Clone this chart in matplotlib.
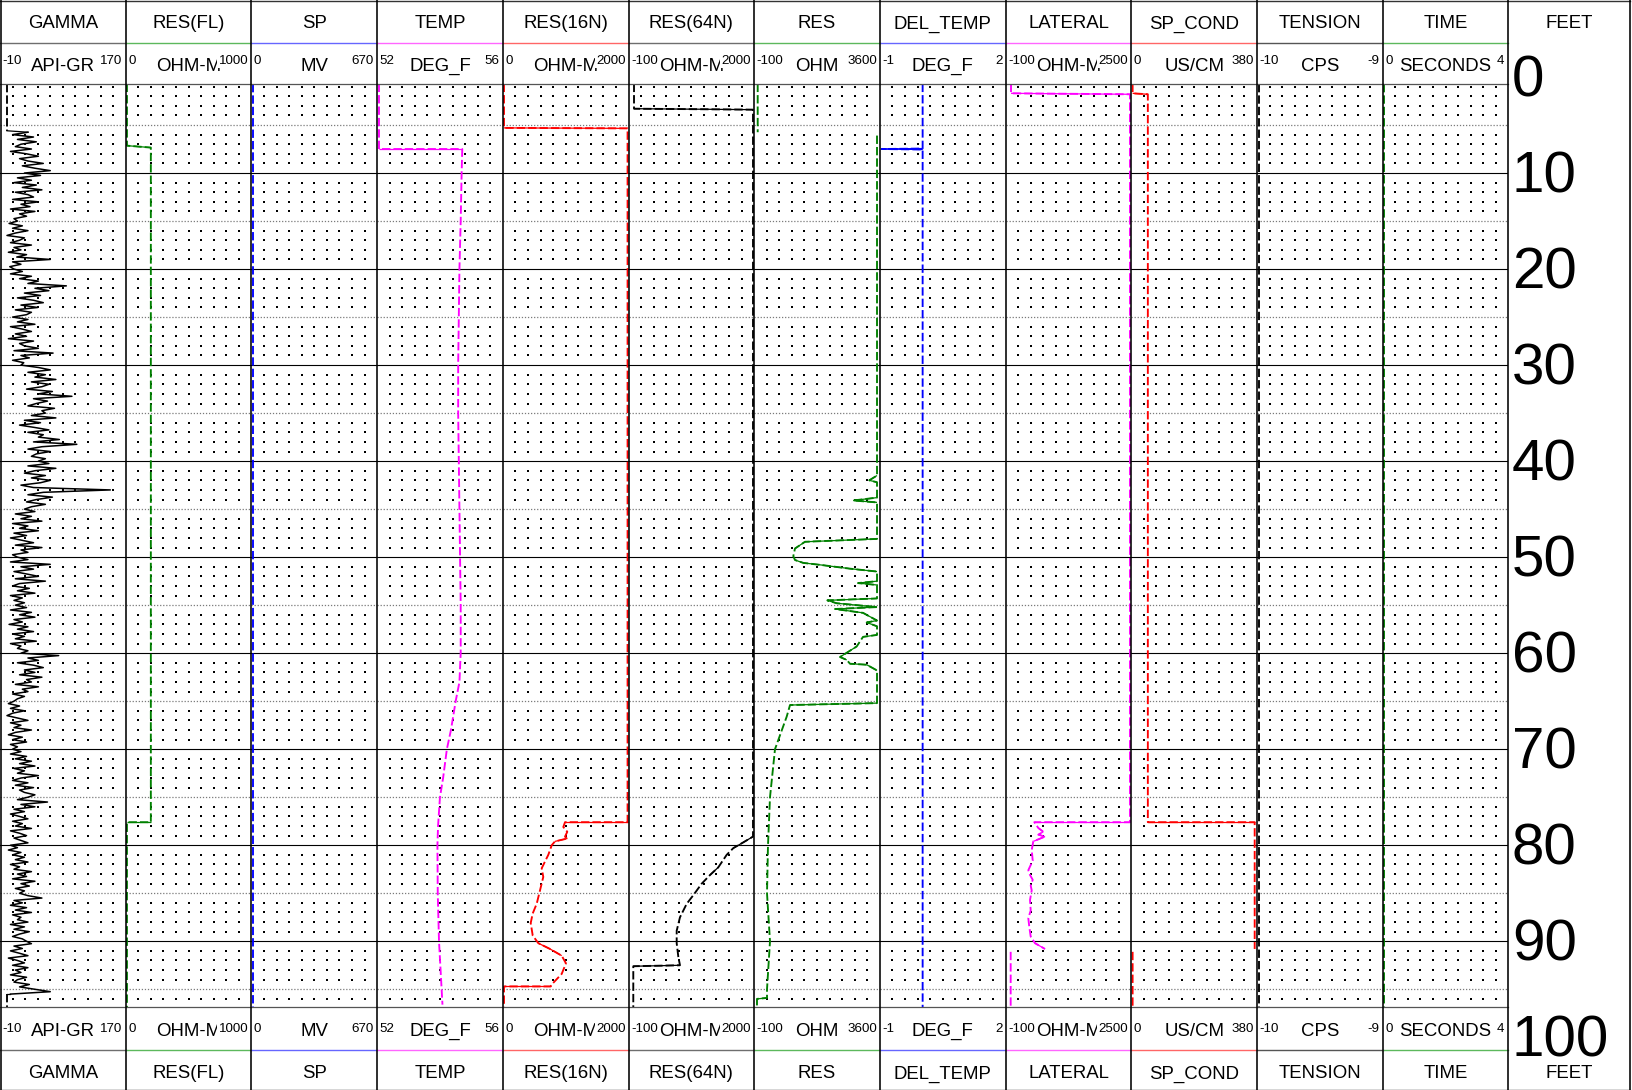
import numpy as np
import matplotlib
matplotlib.use("Agg")
import matplotlib.pyplot as plt

plt.rcParams['font.family'] = ['Liberation Sans', 'DejaVu Sans']
plt.rcParams['lines.scale_dashes'] = False

# ---------------------------------------------------------------- track setup
titles = ["GAMMA", "RES(FL)", "SP", "TEMP", "RES(16N)", "RES(64N)", "RES",
          "DEL_TEMP", "LATERAL", "SP_COND", "TENSION", "TIME"]
units = ["API-GR", "OHM-M", "MV", "DEG_F", "OHM-M", "OHM-M", "OHM",
         "DEG_F", "OHM-M", "US/CM", "CPS", "SECONDS"]
scale_min = [-10, 0, 0, 52, 0, -100, -100, -1, -100, 0, -10, 0]
scale_max = [170, 1000, 670, 56, 2000, 2000, 3600, 2, 2500, 380, -9, 4]
curve_colors = ["black", "#008000", "#0000ff", "#ff00ff", "#ff0000", "black",
                "#008000", "#0000ff", "#ff00ff", "#ff0000", "black", "#008000"]
header_colors = ["#6e6e6e", "#5cb85c", "#6666ff", "#ff66ff", "#ff6666", "#6e6e6e",
                 "#5cb85c", "#6666ff", "#ff66ff", "#ff6666", "#555555", "#5cb85c"]
depth_labels = [0, 10, 20, 30, 40, 50, 60, 70, 80, 90, 100]

# ---------------------------------------------------------------- log curves
# GAMMA (API) sampled every 0.25 ft from 5.75 ft to 95.5 ft
gamma_start, gamma_step = 5.75, 0.25
gamma_values = [
    30, 8, 38, 15, 42, 20, 12, 35, 5, 28, 45, 18, 30, 52, 22, 40, 62,
    25, 48, 15, 35, 10, 42, 22, 50, 12, 30, 38, 8, 45, 20, 33, 5, 40, 18, 28, 10,
    15, 3, 22, 8, 30, 12, 0, 25, 18, 5, 35, 10, 20, 2, 28, 14, 62, 8, 20, 4,
    10, 22, 5, 35, 18, 45, 30, 85, 40, 60, 25, 48, 15, 38, 52, 20, 44, 12, 35, 28,
    8, 30, 15, 40, 5, 22, 35, 12, 28, 2, 38, 18, 25, 45, 10, 66, 20, 32, 8, 24,
    20, 45, 62, 30, 55, 40, 70, 35, 60, 50, 28, 65, 45, 93, 38, 58, 42, 30, 68, 50,
    55, 35, 70, 25, 48, 18, 40, 60, 30, 52, 45, 75, 38, 100, 50, 30, 62, 42, 35, 55,
    45, 60, 30, 70, 40, 25, 55, 35, 62, 48, 20, 38, 148, 52, 30, 65, 42, 28, 55, 35,
    25, 40, 12, 35, 20, 50, 8, 30, 18, 45, 10, 28, 5, 22, 38, 12, 50, 20, 30, 8,
    15, 30, 5, 62, 20, 38, 10, 28, 45, 12, 55, 18, 8, 32, 15, 40, 5, 22, 10, 25,
    12, 28, 5, 35, 18, 40, 10, 22, 3, 30, 15, 38, 8, 25, 12, 42, 5, 20, 15, 30,
    20, 74, 30, 45, 15, 38, 52, 25, 40, 18, 50, 28, 35, 12, 45, 22, 30, 8, 25, 15,
    10, 2, 18, 5, 25, 8, 0, 15, 30, 5, 20, 10, 35, 12, 2, 22, 8, 28, 5, 15,
    8, 20, 5, 28, 12, 35, 18, 40, 10, 25, 15, 45, 20, 8, 30, 12, 38, 18, 25, 40,
    30, 15, 58, 20, 40, 10, 25, 5, 18, 30, 8, 22, 12, 35, 5, 18, 28, 10, 20, 30,
    5, 15, 2, 20, 8, 25, 12, 30, 5, 18, 10, 35, 15, 28, 8, 40, 20, 32, 12, 25,
    18, 30, 50, 10, 22, 5, 28, 12, 35, 8, 20, 15, 30, 5, 25, 10, 32, 18, 8, 22,
    28, 35, 10, 22, 5, 18, 30, 2, 15, 25, 8, 30, 12, 20, 5, 28, 15, 10, 32, 18,
    40, 62, 5,
]
gamma_top_depth = [0.7, 5.6]
gamma_top_value = [0, 0]
gamma_bot_depth = [95.5, 96.9]
gamma_bot_value = [0, 0]

resfl_depth = [0.7, 7.15, 7.35, 77.6, 77.6, 96.9]
resfl_value = [10, 10, 200, 200, 10, 10]

sp_depth = [0.7, 96.9]
sp_value = [7, 7]

temp_depth = [0.7, 7.5, 7.5, 10, 15, 20, 25, 30, 35, 40, 45, 50, 55, 60, 63, 65,
              68, 70, 73, 75, 78, 80, 85, 90, 96.6]
temp_value = [52.06, 52.06, 54.71, 54.69, 54.66, 54.62, 54.60, 54.58, 54.58, 54.60,
              54.62, 54.64, 54.66, 54.66, 54.62, 54.50, 54.35, 54.22, 54.10, 54.00,
              53.94, 53.92, 53.93, 53.97, 54.08]

res16_depth = [0.7, 5.3, 5.35, 77.6, 77.6, 78.1, 78.6, 79.1, 79.3, 79.6, 80.0, 81.0,
               81.7, 82.4, 83.3, 84.7, 86.1, 87.1, 88.1, 89.4, 90.2, 90.8, 91.5,
               92.3, 93.4, 94.5, 94.7, 94.7, 96.9]
res16_value = [19, 19, 1985, 1985, 990, 963, 1026, 990, 1026, 830, 778, 724,
               671, 619, 644, 592, 539, 476, 444, 476, 565, 751, 937,
               1005, 937, 778, 760, 19, 19]

res64_depth = [0.7, 3.3, 3.4, 79.1, 79.7, 80.3, 81.0, 82.3, 83.1, 84.0, 85.2, 86.1,
               87.5, 88.9, 90.2, 91.6, 92.5, 92.6, 96.9]
res64_value = [-8, -8, 1980, 1980, 1818, 1651, 1540, 1400, 1262, 1123, 983, 872,
               760, 705, 705, 732, 760, -20, -20]

res_depth = [0.7, 5.75, np.nan, 6.1, 41.5, 42.0, 42.2, 43.8, 44.1, 44.3, 48.1, 48.4, 49.1,
             49.9, 50.3, 50.6, 50.8, 51.2, 51.5, 52.5, 52.7, 52.9, 54.3, 54.5, 54.8,
             55.2, 55.4, 55.8, 56.6, 56.8, 57.2, 58.1, 58.3, 59.3, 60.4, 60.7, 61.1,
             61.2, 61.8, 65.2, 65.4, 66.6, 70, 75, 80, 85, 90, 95, 95.9, 96.0, 96.9]
res_value = [3, 3, np.nan, 3515, 3515, 3288, 3515, 3515, 2817, 3515, 3515, 1395, 1101,
             1051, 1101, 1345, 1837, 2720, 3515, 3515, 2955, 3515, 3515, 2052, 2328,
             3515, 2278, 3103, 3515, 3211, 3515, 3515, 3103, 2917, 2426, 2623, 2720,
             3211, 3515, 3515, 954, 857, 512, 365, 306, 277, 365, 277, 277, -18, -18]

deltemp_depth = [0.7, 7.45, 7.5, 7.55, 96.9]
deltemp_value = [0.02, 0.02, -0.96, 0.02, 0.02]

lat_depth = [0.7, 1.7, 1.8, 77.6, 77.6, 78.2, 78.6, 78.9, 79.1, 79.6, 80.5, 81.6,
             82.6, 83.1, 83.6, 84.2, 84.7, 85.7, 86.8, 87.6, 88.5, 89.5, 90.2, 90.8,
             np.nan, 91.1, 96.8]
lat_value = [12, 12, 2473, 2473, 494, 576, 680, 576, 715, 473, 440, 461,
             370, 405, 461, 419, 440, 405, 419, 370, 390, 419, 508, 715,
             np.nan, 5, 5]

spc_depth = [0.7, 1.7, 1.8, 77.6, 77.6, 90.8, np.nan, 91.1, 96.8]
spc_value = [4, 4, 50, 50, 373, 373, np.nan, 4, 4]

tension_depth = [0.7, 96.9]
tension_value = [-9.985, -9.985]

time_depth = [0.7, 96.9]
time_value = [0.05, 0.05]

# ---------------------------------------------------------------- geometry
W, H, DPI = 1632, 1090, 100
COL_W = 125.7
FEET_X0, FEET_X1 = 12 * COL_W, 1630.0
Y_DEPTH0, PX_PER_FT = 77.0, 9.603          # pixel row of 0 ft, pixels per foot
DATA_TOP, DATA_BOT = 83.7, 1007.0
ROW1, ROW2 = 42.7, 83.7
BROW1 = 1050.0


def px_to_depth(y):
    return (y - Y_DEPTH0) / PX_PER_FT


fig = plt.figure(figsize=(W / DPI, H / DPI), dpi=DPI)
fig.patch.set_facecolor("white")


def draw_curve(ax, depth, value, lo, hi, color, lw_v=1.35, lw_h=0.9):
    """Dashed log trace; near-horizontal steps are drawn solid."""
    d = np.asarray(depth, float)
    v = np.asarray(value, float)
    ax.plot(v, d, color=color, lw=lw_v, dashes=(6.0, 2.2),
            dash_capstyle="butt", zorder=5)
    dx = np.diff(v) / (hi - lo) * COL_W
    dy = np.diff(d) * PX_PER_FT
    with np.errstate(invalid="ignore"):
        flat = np.abs(dx) > np.abs(dy)
    for k in np.nonzero(flat)[0]:
        ax.plot(v[k:k + 2], d[k:k + 2], color=color, lw=lw_h,
                solid_capstyle="butt", zorder=5)


axes = []
for i in range(12):
    x0 = i * COL_W
    ax = fig.add_axes([x0 / W, 1 - DATA_BOT / H, COL_W / W, (DATA_BOT - DATA_TOP) / H])
    lo, hi = scale_min[i], scale_max[i]
    ax.set_xlim(lo, hi)
    ax.set_ylim(px_to_depth(DATA_BOT), px_to_depth(DATA_TOP))
    ax.set_xticks([])
    ax.set_yticks([])
    for s in ax.spines.values():
        s.set_visible(False)
    ax.patch.set_alpha(0)
    # depth grid
    for d in range(10, 100, 10):
        ax.axhline(d, color="black", lw=0.8, zorder=2)
    for d in range(5, 100, 10):
        ax.axhline(d, color="#7a7a7a", lw=0.9, dashes=(0.9, 1.3), zorder=2)
    gx, gy = [], []
    for d in range(1, 98):
        if d % 5:
            for k in range(1, 10):
                gx.append(lo + k * (hi - lo) / 10)
                gy.append(d)
    ax.plot(gx, gy, ls="none", marker="s", ms=1.75, mew=0, color="black", zorder=1)
    axes.append(ax)

# curves
gamma_depth = gamma_start + gamma_step * np.arange(len(gamma_values))
axes[0].plot(gamma_values, gamma_depth, color="black", lw=1.1, zorder=5)
axes[0].plot([gamma_values[0], gamma_top_value[1]], [gamma_depth[0], gamma_top_depth[1]],
             color="black", lw=0.9, zorder=5)
axes[0].plot([gamma_values[-1], gamma_bot_value[0]], [gamma_depth[-1], gamma_bot_depth[0]],
             color="black", lw=0.9, zorder=5)
draw_curve(axes[0], gamma_top_depth, gamma_top_value, -10, 170, "black")
draw_curve(axes[0], gamma_bot_depth, gamma_bot_value, -10, 170, "black")

curves = [
    (1, resfl_depth, resfl_value),
    (2, sp_depth, sp_value),
    (3, temp_depth, temp_value),
    (4, res16_depth, res16_value),
    (5, res64_depth, res64_value),
    (6, res_depth, res_value),
    (7, deltemp_depth, deltemp_value),
    (8, lat_depth, lat_value),
    (9, spc_depth, spc_value),
    (10, tension_depth, tension_value),
    (11, time_depth, time_value),
]
for i, d, v in curves:
    draw_curve(axes[i], d, v, scale_min[i], scale_max[i], curve_colors[i])

# ---------------------------------------------------------------- headers & frame
ov = fig.add_axes([0, 0, 1, 1])
ov.set_xlim(0, W)
ov.set_ylim(H, 0)
ov.axis("off")
ov.set_zorder(10)
ov.patch.set_alpha(0)

TITLE_FS, UNIT_FS, NUM_FS = 13.4, 13.4, 9.6
for i in range(12):
    x0, x1 = i * COL_W, (i + 1) * COL_W
    xc = (x0 + x1) / 2
    # horizontal rules of the header blocks
    ov.plot([x0, x1], [ROW1, ROW1], color=header_colors[i], lw=1.0)
    ov.plot([x0, x1], [BROW1, BROW1], color=header_colors[i], lw=1.0)
    ov.plot([x0, x1], [ROW2, ROW2], color="#555555", lw=0.9)
    ov.plot([x0, x1], [DATA_BOT, DATA_BOT], color="#555555", lw=0.9)
    lo_txt = f"{scale_min[i]:g}"
    hi_txt = f"{scale_max[i]:g}"
    # the right-hand scale number sits on a white patch where it meets the unit
    box = dict(boxstyle="square,pad=0.1", fc="white", ec="none") if i < 11 else None
    x_hi = x1 - 3.0 if i < 11 else x1 - 4.5
    # baselines: title, unit, scale numbers (top block, then bottom block)
    for yt, yu, yn in ((28.4, 70.8, 63.6), (1078.4, 1036.0, 1031.8)):
        ov.text(xc, yt, titles[i], ha="center", va="baseline", fontsize=TITLE_FS)
        ov.text(xc, yu, units[i], ha="center", va="baseline", fontsize=UNIT_FS)
        ov.text(x0 + 2.5, yn, lo_txt, ha="left", va="baseline", fontsize=NUM_FS)
        ov.text(x_hi, yn, hi_txt, ha="right", va="baseline", fontsize=NUM_FS,
                bbox=box)

# top / bottom frame
ov.plot([0, FEET_X1], [0.5, 0.5], color="#333333", lw=1.0)
ov.plot([0, FEET_X1], [H - 0.5, H - 0.5], color="#333333", lw=1.0)
# column borders
for i in range(13):
    x = max(i * COL_W, 0.6)
    ov.plot([x, x], [0, H], color="black", lw=1.15)
ov.plot([FEET_X1, FEET_X1], [0, H], color="black", lw=1.15)

# depth column
ov.text((FEET_X0 + FEET_X1) / 2, 28.4, "FEET", ha="center", va="baseline", fontsize=TITLE_FS)
ov.text((FEET_X0 + FEET_X1) / 2, 1078.4, "FEET", ha="center", va="baseline", fontsize=TITLE_FS)
fax = fig.add_axes([FEET_X0 / W, 0, (FEET_X1 - FEET_X0) / W, 1])
fax.set_xlim(0, 1)
fax.set_ylim(px_to_depth(H), px_to_depth(0))
fax.axis("off")
fax.patch.set_alpha(0)
label_drop = 19.5 / PX_PER_FT     # baseline sits half a digit height below the depth
for d in depth_labels:
    fax.text(0.028, d + label_drop, str(d), ha="left", va="baseline", fontsize=42)

fig.savefig("out.png", dpi=DPI, facecolor="white")
